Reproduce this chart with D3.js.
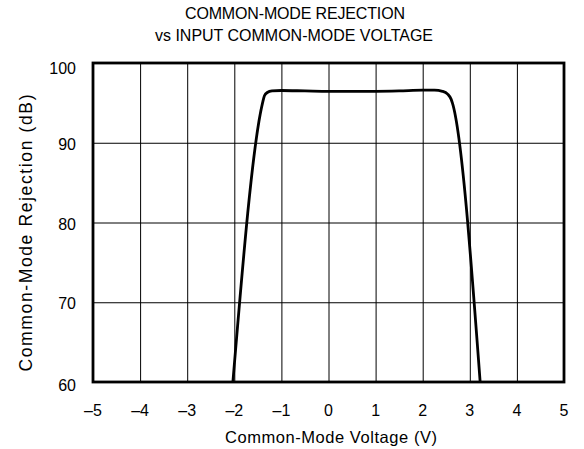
<!DOCTYPE html>
<html>
<head>
<meta charset="utf-8">
<script src="https://cdn.jsdelivr.net/npm/d3@7"></script>
<style>
  body { margin: 0; background: #fff; }
  text { font-family: "Liberation Sans", Arial, sans-serif; fill: #000; }
</style>
</head>
<body>
<svg id="chart" width="584" height="449"></svg>
<script>
'use strict';
// data
var voltage = [-2.03, -1.40, -1.36, -1.30, -1.20, -1.00, -0.50, 0.00, 0.50, 1.00, 1.50, 2.00, 2.25, 2.42, 2.53, 2.60, 2.63, 3.22];
var cmrr    = [60.0, 95.0, 95.9, 96.3, 96.5, 96.55, 96.5, 96.45, 96.45, 96.45, 96.5, 96.6, 96.6, 96.45, 96.1, 95.5, 95.0, 60.0];
var xTicks = [-5, -4, -3, -2, -1, 0, 1, 2, 3, 4, 5];
var yTicks = [60, 70, 80, 90, 100];
var titleLines = ['COMMON-MODE REJECTION', 'vs INPUT COMMON-MODE VOLTAGE'];
var xLabel = 'Common-Mode Voltage (V)';
var yLabel = 'Common-Mode Rejection (dB)';

var plotL = 93, plotR = 564, plotT = 63, plotB = 382;
var svg = d3.select('#chart');

var x = d3.scaleLinear().domain([-5, 5]).range([plotL, plotR]);
var y = d3.scaleLinear().domain([60, 100]).range([plotB, plotT]);

// grid
svg.append('g')
    .attr('transform', 'translate(0,' + plotB + ')')
    .call(d3.axisBottom(x).tickValues(xTicks).tickSize(-(plotB - plotT)).tickFormat(''))
    .call(function(g){
        g.select('.domain').remove();
        g.selectAll('line').attr('stroke', '#000').attr('stroke-width', 1);
    });
svg.append('g')
    .attr('transform', 'translate(' + plotL + ',0)')
    .call(d3.axisLeft(y).tickValues(yTicks).tickSize(-(plotR - plotL)).tickFormat(''))
    .call(function(g){
        g.select('.domain').remove();
        g.selectAll('line').attr('stroke', '#000').attr('stroke-width', 1);
    });

// tick labels
svg.selectAll('.xtick')
    .data(xTicks)
    .enter()
    .append('text')
    .attr('class', 'xtick')
    .attr('x', function(d){ return x(d); })
    .attr('y', 415.5)
    .attr('text-anchor', 'middle')
    .attr('font-size', 16)
    .text(function(d){ return d < 0 ? '\u2013' + Math.abs(d) : d; });

svg.selectAll('.ytick')
    .data(yTicks)
    .enter()
    .append('text')
    .attr('class', 'ytick')
    .attr('x', 76)
    .attr('y', function(d){
        var off = 7;
        if (d === 100) off = 10.5;
        if (d === 60) off = 8.5;
        return y(d) + off;
    })
    .attr('text-anchor', 'end')
    .attr('font-size', 16)
    .text(function(d){ return d; });

// curve
var pts = voltage.map(function(v, i){ return [v, cmrr[i]]; });
var line = d3.line()
    .x(function(d){ return x(d[0]); })
    .y(function(d){ return y(d[1]); })
    .curve(d3.curveMonotoneX);
svg.append('path')
    .attr('d', line(pts))
    .attr('fill', 'none')
    .attr('stroke', '#000')
    .attr('stroke-width', 2.8)
    .attr('stroke-linejoin', 'round');

// frame
svg.append('rect')
    .attr('x', plotL)
    .attr('y', plotT)
    .attr('width', plotR - plotL)
    .attr('height', plotB - plotT)
    .attr('fill', 'none')
    .attr('stroke', '#000')
    .attr('stroke-width', 2.8);

// titles
svg.append('text')
    .attr('x', 295).attr('y', 19.3)
    .attr('text-anchor', 'middle')
    .attr('font-size', 16)
    .attr('textLength', 220).attr('lengthAdjust', 'spacing')
    .text(titleLines[0]);
svg.append('text')
    .attr('x', 294).attr('y', 40.5)
    .attr('text-anchor', 'middle')
    .attr('font-size', 16)
    .attr('textLength', 278).attr('lengthAdjust', 'spacing')
    .text(titleLines[1]);

svg.append('text')
    .attr('x', 331).attr('y', 443)
    .attr('text-anchor', 'middle')
    .attr('font-size', 16.5)
    .attr('textLength', 212).attr('lengthAdjust', 'spacing')
    .text(xLabel);

svg.append('text')
    .attr('transform', 'translate(32,233) rotate(-90)')
    .attr('text-anchor', 'middle')
    .attr('font-size', 17.5)
    .attr('textLength', 277).attr('lengthAdjust', 'spacing')
    .text(yLabel);
</script>
</body>
</html>
